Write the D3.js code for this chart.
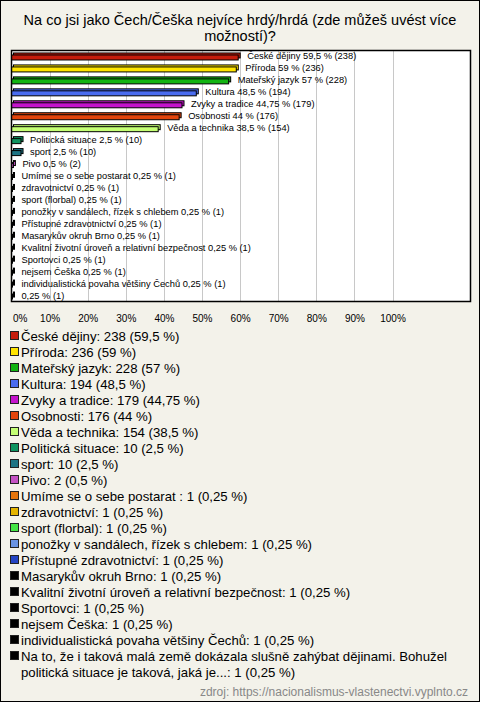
<!DOCTYPE html>
<html><head><meta charset="utf-8">
<script src="https://cdn.jsdelivr.net/npm/d3@7"></script>
<style>
html,body{margin:0;padding:0;background:#f3f2ea;}
svg{display:block;font-family:"Liberation Sans",Arial,sans-serif;}
</style></head>
<body>
<script>
const title = ["Na co jsi jako Čech/Češka nejvíce hrdý/hrdá (zde můžeš uvést více", "možností)?"];
const categories = ["České dějiny","Příroda","Mateřský jazyk","Kultura","Zvyky a tradice","Osobnosti","Věda a technika","Politická situace","sport","Pivo","Umíme se o sebe postarat ","zdravotnictví","sport (florbal)","ponožky v sandálech, řízek s chlebem","Přístupné zdravotnictví","Masarykův okruh Brno","Kvalitní životní úroveň a relativní bezpečnost","Sportovci","nejsem Češka","individualistická povaha většiny Čechů","Na to, že i taková malá země dokázala slušně zahýbat dějinami. Bohužel politická situace je taková, jaká je..."];
const counts = [238,236,228,194,179,176,154,10,10,2,1,1,1,1,1,1,1,1,1,1,1];
const percents = [59.5,59,57,48.5,44.75,44,38.5,2.5,2.5,0.5,0.25,0.25,0.25,0.25,0.25,0.25,0.25,0.25,0.25,0.25,0.25];
const colors = ["#c41c0c","#ffe400","#12b412","#4a6cf0","#c414cc","#e2440c","#c4ff74","#0e9460","#1e7484","#c452c4","#e4740c","#e4b400","#44e444","#6a94e4","#2444c4","#000000","#000000","#000000","#000000","#000000","#000000"];
const xTicks = [0,10,20,30,40,50,60,70,80,90,100];
const source = "zdroj: https://nacionalismus-vlastenectvi.vyplnto.cz";

const W = 480, H = 702;
const svg = d3.select("body").append("svg").attr("width", W).attr("height", H);
svg.append("rect").attr("x",0.5).attr("y",0.5).attr("width",W-1).attr("height",H-1)
  .attr("fill","#f3f2ea").attr("stroke","#000");

// title
svg.append("g").selectAll("text").data(title).join("text")
  .attr("x", W/2).attr("y",(d,i)=>25+i*16).attr("text-anchor","middle")
  .attr("font-size",14.5).attr("fill","#000").text(d=>d);

const plot = {l:11.5, t:50.5, r:470.5, b:301.5};
const x = d3.scaleLinear().domain([0,100]).range([plot.l, 392.5]);
const y = d3.scaleBand().domain(d3.range(categories.length)).range([plot.t, plot.b]);

svg.append("rect").attr("x",plot.l).attr("y",plot.t).attr("width",plot.r-plot.l).attr("height",plot.b-plot.t)
  .attr("fill","#fff");
// grid
svg.append("g").selectAll("line").data(xTicks.slice(1)).join("line")
  .attr("x1",d=>Math.round(x(d))+0.5).attr("x2",d=>Math.round(x(d))+0.5)
  .attr("y1",plot.t).attr("y2",plot.b).attr("stroke","#c8c8c8").attr("stroke-width",1);

// axis labels via d3 axis
const axisG = svg.append("g").attr("transform",`translate(0,${plot.b})`)
  .call(d3.axisBottom(x).tickValues(xTicks).tickFormat(d=>d+"%").tickSize(0).tickPadding(13));
axisG.select(".domain").remove();
axisG.selectAll("text").attr("font-family","Liberation Sans, Arial, sans-serif").attr("font-size",10).attr("fill","#000");
axisG.selectAll(".tick").filter(d=>d===0).select("text").attr("text-anchor","start").attr("x",1);

// bars (3D)
const bars = svg.append("g");
categories.forEach((c,i)=>{
  const cy = y(i) + y.bandwidth()/2;
  const x0 = x(0), x1 = x(percents[i]);
  bars.append("rect").attr("x",x0+2).attr("y",cy-3.5).attr("width",Math.max(x1-x0,1)).attr("height",5)
    .attr("fill",colors[i]).attr("stroke","#000").attr("stroke-width",1);
  bars.append("rect").attr("x",x0).attr("y",cy-1.5).attr("width",Math.max(x1-x0,1)).attr("height",5)
    .attr("fill",colors[i]).attr("stroke","#000").attr("stroke-width",1);
  const fmt = String(percents[i]).replace(".",",");
  const name = c.length > 70 ? "" : c.trim();
  bars.append("text").attr("x",x1+9).attr("y",cy+3).attr("font-size",9.3)
    .attr("fill","#000").text((name?name+" ":"")+fmt+" % ("+counts[i]+")");
});
svg.append("rect").attr("x",plot.l).attr("y",plot.t).attr("width",plot.r-plot.l).attr("height",plot.b-plot.t)
  .attr("fill","none").attr("stroke","#000").attr("stroke-width",1.5);

// legend
const leg = svg.append("g");
let ly = 336;
categories.forEach((c,i)=>{
  const fmt = String(percents[i]).replace(".",",");
  let txt = c + ": " + counts[i] + " (" + fmt + " %)";
  let lines = [txt];
  if (txt.length > 70) {
    const cut = txt.indexOf("Bohužel") + "Bohužel".length;
    lines = [txt.slice(0,cut), txt.slice(cut+1)];
  }
  leg.append("rect").attr("x",10.5).attr("y",ly-4.5).attr("width",8).attr("height",8)
    .attr("fill",colors[i]).attr("stroke","#222").attr("stroke-width",1);
  lines.forEach((t,k)=>{
    leg.append("text").attr("x",21).attr("y",ly+5+k*16).attr("font-size",13.2).attr("fill","#000").text(t);
  });
  ly += 16*lines.length;
});

svg.append("text").attr("x",468).attr("y",696).attr("text-anchor","end").attr("font-size",12)
  .attr("fill","#888").text(source);
</script>
</body></html>
